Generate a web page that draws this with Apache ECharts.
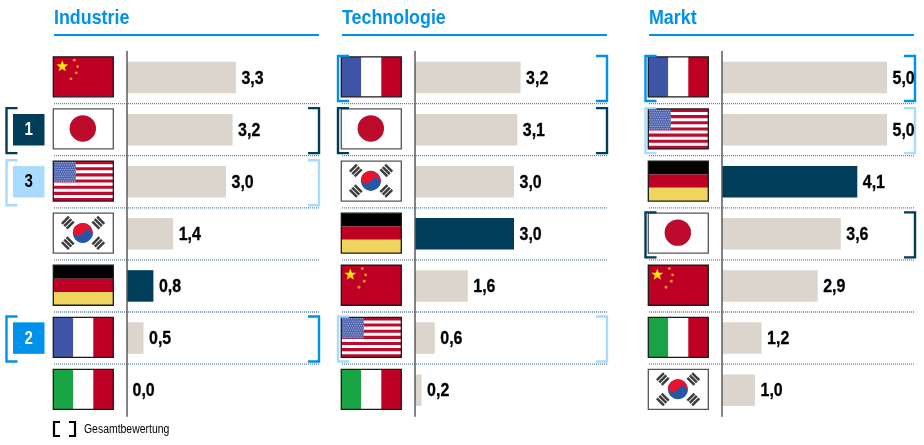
<!DOCTYPE html>
<html lang="de">
<head>
<meta charset="utf-8">
<title>Gesamtbewertung</title>
<style>html,body{margin:0;padding:0;background:#fff}#chart{width:924px;height:445px}</style>
<script src="https://cdn.jsdelivr.net/npm/echarts@6/dist/echarts.min.js"></script>
</head>
<body>
<div id="chart"></div>
<script>
// Rankings per dimension, strongest country first
const industrieLaender = ['China', 'Japan', 'USA', 'Korea', 'Deutschland', 'Frankreich', 'Italien'];
const industrieWerte = [3.3, 3.2, 3.0, 1.4, 0.8, 0.5, 0.0];
const technologieLaender = ['Frankreich', 'Japan', 'Korea', 'Deutschland', 'China', 'USA', 'Italien'];
const technologieWerte = [3.2, 3.1, 3.0, 3.0, 1.6, 0.6, 0.2];
const marktLaender = ['Frankreich', 'USA', 'Deutschland', 'Japan', 'China', 'Italien', 'Korea'];
const marktWerte = [5.0, 5.0, 4.1, 3.6, 2.9, 1.2, 1.0];
const titel = ['Industrie', 'Technologie', 'Markt'];
const gesamtRang = { Japan: 1, Frankreich: 2, USA: 3 };
const legendeText = 'Gesamtbewertung';

const DARK = '#003D58', BLUE = '#0091EA', LIGHT = '#A8DBFF', SAND = '#DCD5CE';
const RANK_COLOR = { 1: DARK, 2: BLUE, 3: LIGHT };
// No condensed face is available, so the sans is squeezed horizontally where it is drawn
const SANS = '"Liberation Sans", Arial, sans-serif';
const SQUEEZE = 0.84;

const FLAG_W = 60, FLAG_H = 40, ROW_H = 52.1;
const panels = [
  { laender: industrieLaender, werte: industrieWerte, axisX: 127, ruleL: 54, bracketL: 6.5, bracketR: 319 },
  { laender: technologieLaender, werte: technologieWerte, axisX: 415, ruleL: 342, bracketL: 338, bracketR: 607 },
  { laender: marktLaender, werte: marktWerte, axisX: 722, ruleL: 649, bracketL: 645.5, bracketR: 915 }
];
const GRID_TOP = 51.5, GRID_H = ROW_H * 7, GRID_W = 165, RULE_W = 265;

function rect(x, y, width, height, fill) {
  return { type: 'rect', shape: { x, y, width, height }, style: { fill } };
}
function circle(cx, cy, r, fill) {
  return { type: 'circle', shape: { cx, cy, r }, style: { fill } };
}
function star(cx, cy, r, fill) {
  const points = [];
  for (let i = 0; i < 10; i++) {
    const a = -Math.PI / 2 + i * Math.PI / 5;
    const rr = i % 2 ? r * 0.42 : r;
    points.push([cx + rr * Math.cos(a), cy + rr * Math.sin(a)]);
  }
  return { type: 'polygon', shape: { points }, style: { fill } };
}
function tricolour(a, b, c) {
  return [rect(0, 0, 20, FLAG_H, a), rect(20, 0, 20, FLAG_H, b), rect(40, 0, 20, FLAG_H, c)];
}
function trigram(x, y, angle) {
  const bars = [-3.4, 0, 3.4].map(off => rect(-5, off - 1.25, 10, 2.5, '#3C3C3C'));
  return { type: 'group', x, y, rotation: angle, children: bars };
}

// Each painter returns the flag's shapes in a 60x40 local box
const flagPainters = {
  China() {
    return [
      rect(0, 0, FLAG_W, FLAG_H, '#BE0024'),
      star(9, 9.5, 6.2, '#FFE800'),
      circle(21, 3.3, 1.4, '#F29A1F'), circle(24.3, 9.7, 1.4, '#F29A1F'),
      circle(23, 16, 1.4, '#F29A1F'), circle(17.7, 22, 1.4, '#F29A1F')
    ];
  },
  Japan() {
    return [rect(0, 0, FLAG_W, FLAG_H, '#FFFFFF'), circle(29.5, 19.5, 13.2, '#BE0A2D')];
  },
  USA() {
    const parts = [rect(0, 0, FLAG_W, FLAG_H, '#FFFFFF')];
    const stripe = FLAG_H / 13;
    for (let i = 0; i < 13; i += 2) parts.push(rect(0, i * stripe, FLAG_W, stripe, '#BE0A2D'));
    parts.push(rect(0, 0, 22.5, 21, '#4F63AD'));
    for (let r = 0; r < 9; r++) {
      for (let c = 0; c < 10; c++) parts.push(rect(1 + c * 2.2 + (r % 2), 1 + r * 2.3, 1, 1, '#B4C0E2'));
    }
    return parts;
  },
  Korea() {
    return [
      rect(0, 0, FLAG_W, FLAG_H, '#FFFFFF'),
      trigram(14.5, 9.5, Math.PI / 4),
      trigram(45, 9.5, -Math.PI / 4),
      trigram(14.5, 30, -Math.PI / 4),
      trigram(45, 30, Math.PI / 4),
      {
        type: 'group', x: 29.5, y: 19.8, rotation: -0.4,
        children: [
          circle(0, 0, 10, '#2358A8'),
          { type: 'sector', shape: { cx: 0, cy: 0, r: 10, r0: 0, startAngle: Math.PI, endAngle: 2 * Math.PI }, style: { fill: '#E8142E' } },
          circle(-5, 0, 5, '#E8142E'),
          circle(5, 0, 5, '#2358A8')
        ]
      }
    ];
  },
  Deutschland() {
    return [rect(0, 0, FLAG_W, 13.4, '#000000'), rect(0, 13.4, FLAG_W, 13.3, '#BE0024'), rect(0, 26.7, FLAG_W, 13.3, '#EFD55E')];
  },
  Frankreich() {
    return tricolour('#3F55A5', '#FFFFFF', '#BE0024');
  },
  Italien() {
    return tricolour('#1AA345', '#FFFFFF', '#BE0024');
  }
};

function flag(land, x, y) {
  const frame = (land === 'Japan' || land === 'Korea') ? '#555555' : '#1A1A1A';
  return {
    type: 'group', x, y,
    children: flagPainters[land]().concat([{
      type: 'rect',
      shape: { x: 0, y: 0, width: FLAG_W, height: FLAG_H },
      style: { fill: 'none', stroke: frame, lineWidth: 1.3 }
    }])
  };
}

function bracket(x, yc, armDir, colour) {
  const half = 22.5, arm = 11;
  return {
    type: 'polyline',
    shape: { points: [[x + armDir * arm, yc - half], [x, yc - half], [x, yc + half], [x + armDir * arm, yc + half]] },
    style: { fill: 'none', stroke: colour, lineWidth: 2.4 }
  };
}

function rowRenderer(panel, withBadges) {
  return function (params, api) {
    const idx = api.value(1);
    const land = panel.laender[idx];
    const [ax, yc] = api.coord([0, idx]);
    const left = ax - panel.axisX;
    const children = [];
    // Dotted divider under every row but the last
    if (idx < panel.laender.length - 1) {
      const y = yc + api.size([0, 1])[1] / 2;
      children.push({
        type: 'line',
        shape: { x1: left + panel.ruleL, y1: y, x2: left + panel.ruleL + RULE_W, y2: y },
        style: { stroke: '#5F8496', lineWidth: 1.3, lineDash: [1, 1] }
      });
    }
    children.push(flag(land, ax - 73.7, yc - FLAG_H / 2 - 0.7));
    const rang = gesamtRang[land];
    if (rang) {
      const col = RANK_COLOR[rang];
      children.push(bracket(left + panel.bracketL, yc + 1, 1, col));
      children.push(bracket(left + panel.bracketR, yc + 1, -1, col));
      if (withBadges) {
        children.push({ type: 'rect', shape: { x: 13, y: yc - 15.7, width: 31.5, height: 31.5 }, style: { fill: col } });
        children.push({
          type: 'text', x: 28.7, y: yc + 0.5, scaleX: SQUEEZE,
          style: {
            text: String(rang), align: 'center', verticalAlign: 'middle',
            fill: rang === 3 ? '#000000' : '#FFFFFF', font: 'bold 18px ' + SANS
          }
        });
      }
    }
    // Value label just past the end of the bar, decimal comma
    const wert = api.value(2);
    children.push({
      type: 'text', x: api.coord([wert, idx])[0] + 5.5, y: yc + 1, scaleX: SQUEEZE,
      style: {
        text: wert.toFixed(1).replace('.', ','), align: 'left', verticalAlign: 'middle',
        fill: '#000000', stroke: '#000000', lineWidth: 0.3, font: 'bold 19px ' + SANS
      }
    });
    return { type: 'group', children };
  };
}

const option = {
  animation: false,
  backgroundColor: '#FFFFFF',
  grid: panels.map(p => ({ left: p.axisX, top: GRID_TOP, width: GRID_W, height: GRID_H, containLabel: false })),
  xAxis: panels.map((p, i) => ({
    type: 'value', gridIndex: i, min: 0, max: 5, show: false
  })),
  yAxis: panels.map((p, i) => ({
    type: 'category', gridIndex: i, inverse: true, data: p.laender, z: 6,
    axisLine: { lineStyle: { color: '#5A5A5A', width: 1.5 } },
    axisTick: { show: false }, axisLabel: { show: false }, splitLine: { show: false }
  })),
  series: panels.flatMap((p, i) => [
    {
      type: 'custom', xAxisIndex: i, yAxisIndex: i, silent: true, z: 1,
      renderItem: rowRenderer(p, i === 0),
      encode: { x: 0, y: 1 },
      data: p.laender.map((_, r) => [0, r, p.werte[r]])
    },
    {
      type: 'bar', xAxisIndex: i, yAxisIndex: i, barWidth: 31.5, silent: true, z: 3,
      data: p.werte.map((v, r) => ({
        value: v,
        itemStyle: { color: p.laender[r] === 'Deutschland' ? DARK : SAND }
      }))
    }
  ]),
  graphic: panels.flatMap((p, i) => [
    {
      type: 'text', x: p.ruleL, y: 8, scaleX: SQUEEZE + 0.01, silent: true,
      style: { text: titel[i], fill: BLUE, font: 'bold 21px ' + SANS }
    },
    { type: 'rect', x: p.ruleL, y: 34, shape: { width: RULE_W, height: 2 }, style: { fill: BLUE }, silent: true }
  ]).concat([
    { type: 'polyline', shape: { points: [[60, 422], [54, 422], [54, 436], [60, 436]] }, style: { fill: 'none', stroke: '#000', lineWidth: 2.2 }, silent: true },
    { type: 'polyline', shape: { points: [[69, 422], [75, 422], [75, 436], [69, 436]] }, style: { fill: 'none', stroke: '#000', lineWidth: 2.2 }, silent: true },
    {
      type: 'text', x: 84, y: 423.5, scaleX: 0.87, silent: true,
      style: { text: legendeText, fill: '#000', font: '12px ' + SANS }
    }
  ])
};

const chart = echarts.init(document.getElementById('chart'), null, { renderer: 'canvas' });
chart.setOption(option);
</script>
</body>
</html>
